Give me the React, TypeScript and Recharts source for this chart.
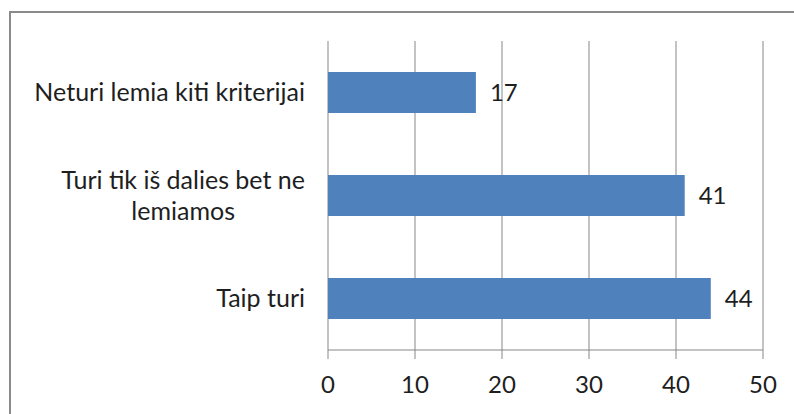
import React from 'react';
import { BarChart, Bar, XAxis, YAxis, CartesianGrid, LabelList } from 'recharts';

const categories = ['Neturi lemia kiti kriterijai', 'Turi tik iš dalies bet ne lemiamos', 'Taip turi'];
const values = [17, 41, 44];
const xTicks = [0, 10, 20, 30, 40, 50];
const boundaryTicks = [0, 1, 2, 3];

const data = categories.map((name, i) => ({ name, value: values[i] }));

const FONT_NAME = 'Lato';
const FONT = 'Lato, "Open Sans", sans-serif';
const FS = 24;
const CAT_FS = 25;
const MAX_LABEL = 290;
const LINE_H = 31;
const TEXT = '#1e1e1e';
const GRID = '#878787';

let ctx: CanvasRenderingContext2D | null = null;
function measure(t: string): number {
  if (!ctx) ctx = document.createElement('canvas').getContext('2d');
  if (!ctx) return t.length * CAT_FS * 0.5;
  ctx.font = `${CAT_FS}px ${FONT_NAME}`;
  return ctx.measureText(t).width;
}
function wrap(text: string): string[] {
  const words = text.split(' ');
  const lines: string[] = [];
  let cur = '';
  for (const w of words) {
    const t = cur ? cur + ' ' + w : w;
    if (cur && measure(t) > MAX_LABEL) {
      lines.push(cur);
      cur = w;
    } else cur = t;
  }
  if (cur) lines.push(cur);
  return lines;
}

const CatTick = (props: any) => {
  const { x, y, payload } = props;
  const lines = wrap(String(payload.value));
  if (lines.length === 1) {
    return (
      <text x={x} y={y} dy="0.35em" textAnchor="end" fill={TEXT} fontSize={CAT_FS} fontFamily={FONT}>
        {lines[0]}
      </text>
    );
  }
  const maxW = Math.max(...lines.map(measure));
  const cx = x - maxW / 2;
  const y0 = y - ((lines.length - 1) * LINE_H) / 2;
  return (
    <text textAnchor="middle" fill={TEXT} fontSize={CAT_FS} fontFamily={FONT}>
      {lines.map((l, i) => (
        <tspan key={i} x={cx} y={y0 + i * LINE_H} dy="0.35em">
          {l}
        </tspan>
      ))}
    </text>
  );
};

export default function App() {
  return (
    <div style={{ position: 'absolute', left: 0, top: 0, width: 794, height: 414, overflow: 'hidden', background: '#fff' }}>
      <div
        style={{
          position: 'absolute',
          left: 9,
          top: 11,
          width: 800,
          height: 420,
          border: '2px solid #8a8a8a',
          boxSizing: 'border-box',
        }}
      />
      <div style={{ position: 'absolute', left: 0, top: 0 }}>
        <BarChart
          width={794}
          height={414}
          data={data}
          layout="vertical"
          margin={{ top: 41, right: 31, left: 0, bottom: 0 }}
          barCategoryGap="30%"
        >
          <CartesianGrid horizontal={false} vertical={true} stroke={GRID} strokeWidth={1} />
          <XAxis
            type="number"
            domain={[0, 50]}
            ticks={xTicks}
            interval={0}
            height={64}
            tickSize={9}
            tickMargin={17}
            axisLine={{ stroke: GRID }}
            tickLine={{ stroke: GRID }}
            tick={{ fill: TEXT, fontSize: FS, fontFamily: FONT }}
          />
          <YAxis
            yAxisId="bounds"
            type="number"
            domain={[0, 3]}
            ticks={boundaryTicks}
            interval={0}
            width={0}
            tick={false}
            tickSize={7}
            axisLine={{ stroke: GRID }}
            tickLine={{ stroke: GRID }}
          />
          <YAxis
            type="category"
            dataKey="name"
            width={328}
            axisLine={false}
            tickLine={false}
            tickSize={6}
            tickMargin={17}
            interval={0}
            tick={<CatTick />}
          />
          <Bar dataKey="value" fill="#4F81BD" isAnimationActive={false}>
            <LabelList dataKey="value" position="right" offset={14} fill={TEXT} fontSize={FS} fontFamily={FONT} />
          </Bar>
        </BarChart>
      </div>
    </div>
  );
}
